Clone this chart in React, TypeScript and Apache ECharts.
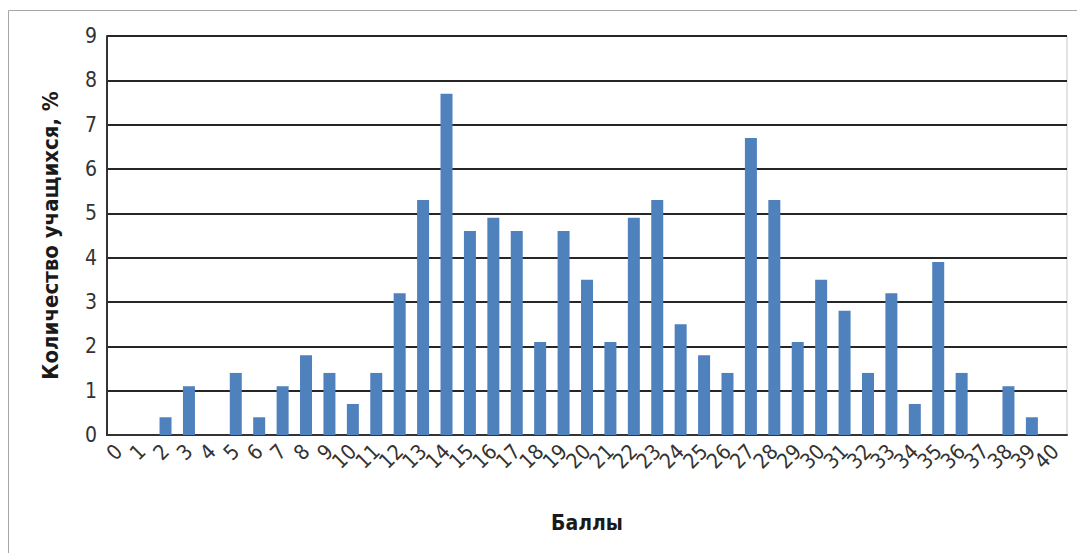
import React, { useEffect, useRef } from "react";
import * as echarts from "echarts";

const categories: string[] = [
  "0", "1", "2", "3", "4", "5", "6", "7", "8", "9",
  "10", "11", "12", "13", "14", "15", "16", "17", "18", "19",
  "20", "21", "22", "23", "24", "25", "26", "27", "28", "29",
  "30", "31", "32", "33", "34", "35", "36", "37", "38", "39", "40",
];

const percentValues: number[] = [
  0, 0, 0.4, 1.1, 0, 1.4, 0.4, 1.1, 1.8, 1.4,
  0.7, 1.4, 3.2, 5.3, 7.7, 4.6, 4.9, 4.6, 2.1, 4.6,
  3.5, 2.1, 4.9, 5.3, 2.5, 1.8, 1.4, 6.7, 5.3, 2.1,
  3.5, 2.8, 1.4, 3.2, 0.7, 3.9, 1.4, 0, 1.1, 0.4, 0,
];

const xTitle = "Баллы";
const yTitle = "Количество учащихся, %";

export default function App() {
  const ref = useRef<HTMLDivElement>(null);

  useEffect(() => {
    if (!ref.current) return;
    const chart = echarts.init(ref.current, undefined, { renderer: "svg" });
    const font = "'DejaVu Sans Condensed', 'DejaVu Sans', sans-serif";
    chart.setOption({
      animation: false,
      backgroundColor: "#ffffff",
      textStyle: { fontFamily: font },
      graphic: [
        {
          type: "rect",
          shape: { x: 8.5, y: 10.5, width: 1200, height: 700 },
          style: { fill: "none", stroke: "#a6a6a6", lineWidth: 1 },
          silent: true,
          z: -1,
        },
      ],
      grid: {
        left: 107,
        top: 36,
        right: 10,
        bottom: 118,
        show: true,
        borderColor: "#c8c8c8",
        borderWidth: 1,
        containLabel: false,
      },
      xAxis: {
        type: "category",
        data: categories,
        name: xTitle,
        nameLocation: "middle",
        nameGap: 77,
        nameTextStyle: {
          fontFamily: font,
          fontWeight: "bold",
          fontSize: 21,
          color: "#1a1a1a",
        },
        axisLine: { show: true, lineStyle: { color: "#333333", width: 2 } },
        axisTick: { show: false },
        axisLabel: {
          interval: 0,
          rotate: 45,
          margin: 13,
          fontFamily: font,
          fontSize: 21,
          color: "#333333",
        },
      },
      yAxis: {
        type: "value",
        min: 0,
        max: 9,
        interval: 1,
        name: yTitle,
        nameLocation: "middle",
        nameGap: 46,
        nameRotate: 90,
        nameTextStyle: {
          fontFamily: font,
          fontWeight: "bold",
          fontSize: 22,
          color: "#1a1a1a",
        },
        axisLine: { show: true, lineStyle: { color: "#333333", width: 2 } },
        axisTick: { show: false },
        axisLabel: {
          margin: 10,
          fontFamily: font,
          fontSize: 21,
          color: "#333333",
        },
        splitLine: { show: true, lineStyle: { color: "#262626", width: 2 } },
      },
      series: [
        {
          type: "bar",
          data: percentValues,
          barWidth: 12,
          itemStyle: { color: "#4f81bd" },
        },
      ],
    });
    return () => chart.dispose();
  }, []);

  return (
    <div
      ref={ref}
      style={{ position: "absolute", left: 0, top: 0, width: 1077, height: 553 }}
    />
  );
}
